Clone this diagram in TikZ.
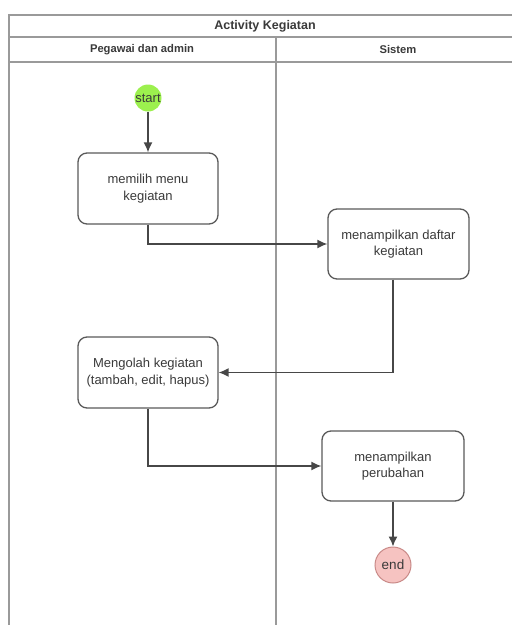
\documentclass[tikz,border=0pt]{standalone}
\usepackage{fontspec}
\setmainfont{Liberation Sans}
\usetikzlibrary{arrows.meta}
\definecolor{lanegray}{HTML}{9A9A9A}
\definecolor{boxgray}{HTML}{5A5A5A}
\definecolor{txtgray}{HTML}{3A3A3A}
\definecolor{startgreen}{HTML}{9CF04E}
\definecolor{endfill}{HTML}{F6C3C1}
\definecolor{endline}{HTML}{C98A88}
\tikzset{
  lane/.style={draw=lanegray, line width=2.2pt},
  actbox/.style={draw=boxgray, line width=1.3pt, rounded corners=9pt, fill=white,
    align=center, text=txtgray, font=\fontsize{13}{16.5}\selectfont, inner sep=0pt},
  startnode/.style={circle, fill=startgreen, draw=none, minimum size=27pt, inner sep=0pt,
    text=txtgray, font=\fontsize{13}{14}\selectfont},
  endnode/.style={circle, fill=endfill, draw=endline, line width=1pt, minimum size=36pt, inner sep=0pt,
    text=txtgray, font=\fontsize{13.5}{14}\selectfont},
  flow/.style={draw=black!72, line width=1.4pt, -{Latex[length=10pt,width=9pt]}},
  title/.style={font=\bfseries\fontsize{12.5}{14}\selectfont, text=txtgray},
  lanehead/.style={font=\bfseries\fontsize{11.2}{13}\selectfont, text=txtgray},
}
\begin{document}
\begin{tikzpicture}[x=1pt, y=-1pt]
  \useasboundingbox (0,0) rectangle (512,625);
  \fill[white] (0,0) rectangle (512,625);

  % pool frame and swimlanes
  \draw[lane] (9,625) -- (9,15) -- (512,15);
  \draw[lane] (9,37) -- (512,37);
  \draw[lane] (9,62) -- (512,62);
  \draw[lane] (276,37) -- (276,625);

  \node[title] (pool) at (265,26) {Activity Kegiatan};
  \node[lanehead] (laneA) at (142,49.5) {Pegawai dan admin};
  \node[lanehead] (laneB) at (398,49.5) {Sistem};

  % activities
  \node[startnode] (start) at (148,98) {start};
  \node[actbox, minimum width=140pt, minimum height=71pt] (pilih) at (148,188.5) {memilih menu\\kegiatan};
  \node[actbox, minimum width=141pt, minimum height=70pt] (daftar) at (398.5,244) {menampilkan daftar\\kegiatan};
  \node[actbox, minimum width=140pt, minimum height=71pt] (olah) at (148,372.5) {Mengolah kegiatan\\(tambah, edit, hapus)};
  \node[actbox, minimum width=142pt, minimum height=70pt] (ubah) at (393,466) {menampilkan\\perubahan};
  \node[endnode] (end) at (393,565) {end};

  % control flow
  \draw[flow] (start) -- (pilih);
  \draw[flow] (pilih.south) |- (daftar.west);
  \draw[flow] ([xshift=-5.5pt]daftar.south) |- (olah.east);
  \draw[flow] (olah.south) |- (ubah.west);
  \draw[flow] (ubah) -- (end);
\end{tikzpicture}
\end{document}
